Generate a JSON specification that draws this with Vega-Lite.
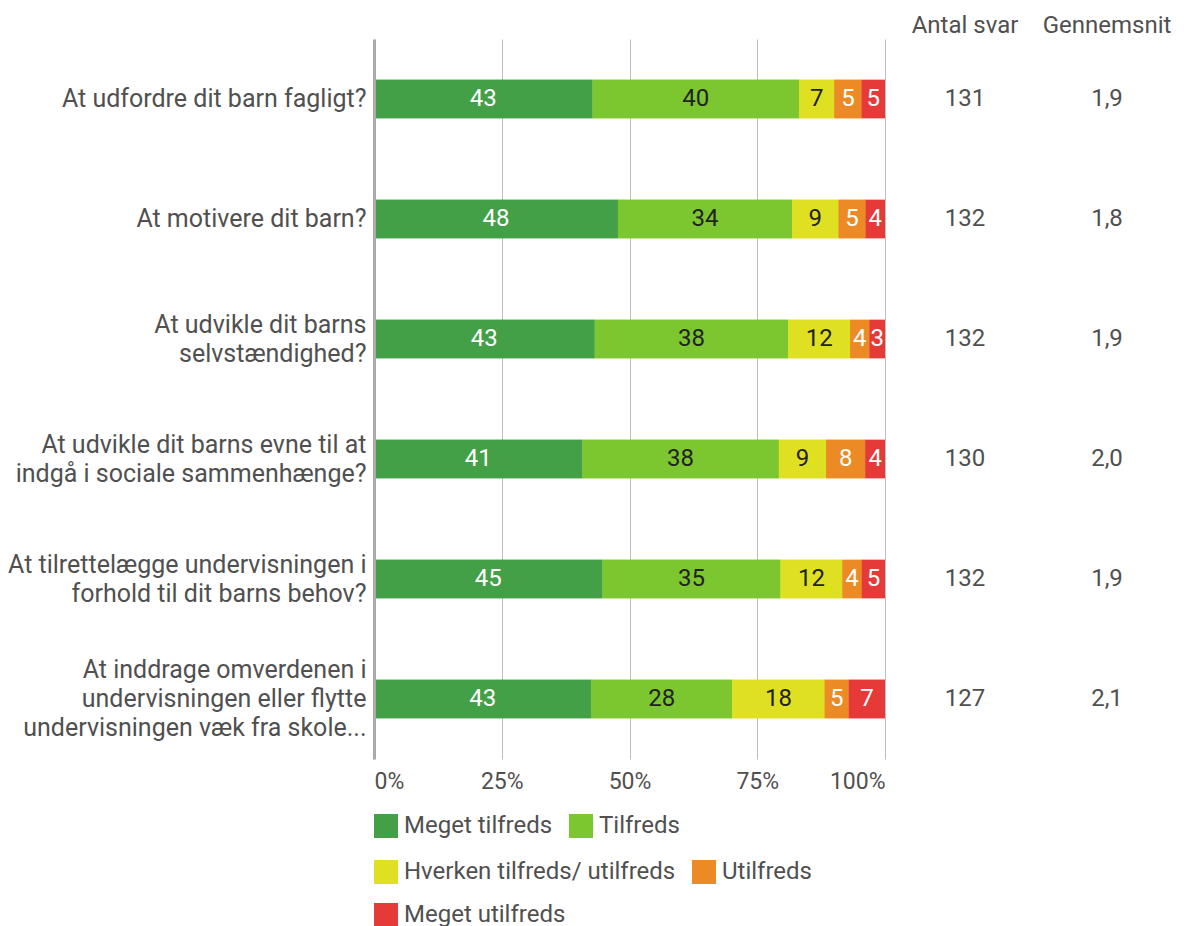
{
  "$schema": "https://vega.github.io/schema/vega-lite/v6.json",
  "padding": {"left": 7, "top": 14, "right": 5, "bottom": 2},
  "autosize": {"type": "pad"},
  "bounds": "flush",
  "spacing": 0,
  "config": {
    "view": {"stroke": null},
    "font": "Roboto",
    "text": {"font": "Roboto"},
    "title": {"font": "Roboto", "fontSize": 24, "fontWeight": "normal", "color": "#505050", "anchor": "middle", "offset": 1},
    "legend": {"layout": {"bottom": {"direction": "vertical", "anchor": "start", "margin": 22}}}
  },
  "datasets": {
    "svar": [
      {"q": "At udfordre dit barn fagligt?", "kat": "Meget tilfreds", "k": 1, "n": 56, "pct": 43},
      {"q": "At udfordre dit barn fagligt?", "kat": "Tilfreds", "k": 2, "n": 53, "pct": 40},
      {"q": "At udfordre dit barn fagligt?", "kat": "Hverken tilfreds/ utilfreds", "k": 3, "n": 9, "pct": 7},
      {"q": "At udfordre dit barn fagligt?", "kat": "Utilfreds", "k": 4, "n": 7, "pct": 5},
      {"q": "At udfordre dit barn fagligt?", "kat": "Meget utilfreds", "k": 5, "n": 6, "pct": 5},
      {"q": "At motivere dit barn?", "kat": "Meget tilfreds", "k": 1, "n": 63, "pct": 48},
      {"q": "At motivere dit barn?", "kat": "Tilfreds", "k": 2, "n": 45, "pct": 34},
      {"q": "At motivere dit barn?", "kat": "Hverken tilfreds/ utilfreds", "k": 3, "n": 12, "pct": 9},
      {"q": "At motivere dit barn?", "kat": "Utilfreds", "k": 4, "n": 7, "pct": 5},
      {"q": "At motivere dit barn?", "kat": "Meget utilfreds", "k": 5, "n": 5, "pct": 4},
      {"q": "At udvikle dit barns\nselvstændighed?", "kat": "Meget tilfreds", "k": 1, "n": 57, "pct": 43},
      {"q": "At udvikle dit barns\nselvstændighed?", "kat": "Tilfreds", "k": 2, "n": 50, "pct": 38},
      {"q": "At udvikle dit barns\nselvstændighed?", "kat": "Hverken tilfreds/ utilfreds", "k": 3, "n": 16, "pct": 12},
      {"q": "At udvikle dit barns\nselvstændighed?", "kat": "Utilfreds", "k": 4, "n": 5, "pct": 4},
      {"q": "At udvikle dit barns\nselvstændighed?", "kat": "Meget utilfreds", "k": 5, "n": 4, "pct": 3},
      {"q": "At udvikle dit barns evne til at\nindgå i sociale sammenhænge?", "kat": "Meget tilfreds", "k": 1, "n": 53, "pct": 41},
      {"q": "At udvikle dit barns evne til at\nindgå i sociale sammenhænge?", "kat": "Tilfreds", "k": 2, "n": 50, "pct": 38},
      {"q": "At udvikle dit barns evne til at\nindgå i sociale sammenhænge?", "kat": "Hverken tilfreds/ utilfreds", "k": 3, "n": 12, "pct": 9},
      {"q": "At udvikle dit barns evne til at\nindgå i sociale sammenhænge?", "kat": "Utilfreds", "k": 4, "n": 10, "pct": 8},
      {"q": "At udvikle dit barns evne til at\nindgå i sociale sammenhænge?", "kat": "Meget utilfreds", "k": 5, "n": 5, "pct": 4},
      {"q": "At tilrettelægge undervisningen i\nforhold til dit barns behov?", "kat": "Meget tilfreds", "k": 1, "n": 59, "pct": 45},
      {"q": "At tilrettelægge undervisningen i\nforhold til dit barns behov?", "kat": "Tilfreds", "k": 2, "n": 46, "pct": 35},
      {"q": "At tilrettelægge undervisningen i\nforhold til dit barns behov?", "kat": "Hverken tilfreds/ utilfreds", "k": 3, "n": 16, "pct": 12},
      {"q": "At tilrettelægge undervisningen i\nforhold til dit barns behov?", "kat": "Utilfreds", "k": 4, "n": 5, "pct": 4},
      {"q": "At tilrettelægge undervisningen i\nforhold til dit barns behov?", "kat": "Meget utilfreds", "k": 5, "n": 6, "pct": 5},
      {"q": "At inddrage omverdenen i\nundervisningen eller flytte\nundervisningen væk fra skole...", "kat": "Meget tilfreds", "k": 1, "n": 54, "pct": 43},
      {"q": "At inddrage omverdenen i\nundervisningen eller flytte\nundervisningen væk fra skole...", "kat": "Tilfreds", "k": 2, "n": 35, "pct": 28},
      {"q": "At inddrage omverdenen i\nundervisningen eller flytte\nundervisningen væk fra skole...", "kat": "Hverken tilfreds/ utilfreds", "k": 3, "n": 23, "pct": 18},
      {"q": "At inddrage omverdenen i\nundervisningen eller flytte\nundervisningen væk fra skole...", "kat": "Utilfreds", "k": 4, "n": 6, "pct": 5},
      {"q": "At inddrage omverdenen i\nundervisningen eller flytte\nundervisningen væk fra skole...", "kat": "Meget utilfreds", "k": 5, "n": 9, "pct": 7}
    ],
    "total": [
      {"q": "At udfordre dit barn fagligt?", "antal": 131, "snit": "1,9"},
      {"q": "At motivere dit barn?", "antal": 132, "snit": "1,8"},
      {"q": "At udvikle dit barns\nselvstændighed?", "antal": 132, "snit": "1,9"},
      {"q": "At udvikle dit barns evne til at\nindgå i sociale sammenhænge?", "antal": 130, "snit": "2,0"},
      {"q": "At tilrettelægge undervisningen i\nforhold til dit barns behov?", "antal": 132, "snit": "1,9"},
      {"q": "At inddrage omverdenen i\nundervisningen eller flytte\nundervisningen væk fra skole...", "antal": 127, "snit": "2,1"}
    ]
  },
  "hconcat": [
    {
      "width": 511,
      "height": 720,
      "data": {"name": "svar"},
      "transform": [
        {"stack": "n", "groupby": ["q"], "sort": [{"field": "k", "order": "ascending"}], "offset": "normalize", "as": ["x0", "x1"]}
      ],
      "encoding": {
        "y": {
          "field": "q", "type": "nominal",
          "sort": ["At udfordre dit barn fagligt?", "At motivere dit barn?", "At udvikle dit barns\nselvstændighed?", "At udvikle dit barns evne til at\nindgå i sociale sammenhænge?", "At tilrettelægge undervisningen i\nforhold til dit barns behov?", "At inddrage omverdenen i\nundervisningen eller flytte\nundervisningen væk fra skole..."],
          "scale": {"paddingInner": 0.68, "paddingOuter": 0.34},
          "axis": {
            "title": null, "labelExpr": "split(datum.value, '\\n')",
            "labelFont": "Roboto", "labelFontSize": 25, "labelColor": "#505050", "labelLimit": 0,
            "labelPadding": 8, "labelLineHeight": 29, "ticks": false, "grid": false,
            "labelOffset": {
              "condition": [
                {"test": "length(split(datum.value, '\\n')) == 3", "value": -29},
                {"test": "length(split(datum.value, '\\n')) == 2", "value": -14}
              ],
              "value": 0
            },
            "domainColor": "#aaaaaa", "domainWidth": 3, "zindex": 1
          }
        }
      },
      "layer": [
        {
          "mark": {"type": "bar"},
          "encoding": {
            "x": {
              "field": "x0", "type": "quantitative", "scale": {"domain": [0, 1], "nice": false},
              "axis": {
                "title": null, "values": [0, 0.25, 0.5, 0.75, 1], "format": "%", "labelFlush": true,
                "grid": true, "gridColor": "#bdbdbd", "gridWidth": 1, "domain": false, "ticks": false,
                "labelFont": "Roboto", "labelFontSize": 23, "labelColor": "#505050", "labelPadding": 11
              }
            },
            "x2": {"field": "x1"},
            "color": {
              "field": "kat", "type": "nominal",
              "scale": {
                "domain": ["Meget tilfreds", "Tilfreds", "Hverken tilfreds/ utilfreds", "Utilfreds", "Meget utilfreds"],
                "range": ["#43a047", "#7cc62f", "#dfe022", "#ec8b25", "#e53a37"]
              },
              "legend": {
                "title": null, "orient": "bottom", "direction": "horizontal",
                "values": ["Meget tilfreds", "Tilfreds"],
                "symbolType": "square", "symbolSize": 576, "symbolStrokeWidth": 0, "symbolOpacity": 1,
                "labelFont": "Roboto", "labelFontSize": 24, "labelColor": "#505050", "labelOffset": 6, "labelLimit": 0,
                "rowPadding": 19, "columnPadding": 16, "offset": 21
              }
            }
          }
        },
        {
          "mark": {"type": "bar"},
          "encoding": {
            "x": {
              "field": "x0", "type": "quantitative", "scale": {"domain": [0, 1], "nice": false},
              "axis": {
                "title": null, "values": [0, 0.25, 0.5, 0.75, 1], "format": "%", "labelFlush": true,
                "grid": true, "gridColor": "#bdbdbd", "gridWidth": 1, "domain": false, "ticks": false,
                "labelFont": "Roboto", "labelFontSize": 23, "labelColor": "#505050", "labelPadding": 11
              }
            },
            "x2": {"field": "x1"},
            "fill": {
              "field": "kat", "type": "nominal",
              "scale": {
                "domain": ["Hverken tilfreds/ utilfreds", "Utilfreds", "Meget utilfreds", "Meget tilfreds", "Tilfreds"],
                "range": ["#dfe022", "#ec8b25", "#e53a37", "#43a047", "#7cc62f"]
              },
              "legend": {
                "title": null, "orient": "bottom", "direction": "horizontal", "columns": 2,
                "values": ["Hverken tilfreds/ utilfreds", "Utilfreds", "Meget utilfreds"],
                "symbolType": "square", "symbolSize": 576, "symbolStrokeWidth": 0, "symbolOpacity": 1,
                "labelFont": "Roboto", "labelFontSize": 24, "labelColor": "#505050", "labelOffset": 6, "labelLimit": 0,
                "rowPadding": 19, "columnPadding": 16, "offset": 21
              }
            }
          }
        },
        {
          "transform": [
            {"fold": ["x0", "x1"], "as": ["edge", "pos"]},
            {"aggregate": [{"op": "mean", "field": "pos", "as": "mid"}], "groupby": ["q", "kat", "pct"]}
          ],
          "mark": {"type": "text", "fontSize": 24, "font": "Roboto"},
          "encoding": {
            "x": {
              "field": "mid", "type": "quantitative", "scale": {"domain": [0, 1], "nice": false},
              "axis": {
                "title": null, "values": [0, 0.25, 0.5, 0.75, 1], "format": "%", "labelFlush": true,
                "grid": true, "gridColor": "#bdbdbd", "gridWidth": 1, "domain": false, "ticks": false,
                "labelFont": "Roboto", "labelFontSize": 23, "labelColor": "#505050", "labelPadding": 11
              }
            },
            "text": {"field": "pct", "type": "quantitative"},
            "color": {
              "condition": {"test": "datum.kat === 'Tilfreds' || datum.kat === 'Hverken tilfreds/ utilfreds'", "value": "#222222"},
              "value": "#ffffff"
            }
          }
        }
      ]
    },
    {
      "width": 160,
      "height": 720,
      "data": {"name": "total"},
      "title": {"text": "Antal svar"},
      "mark": {"type": "text", "fontSize": 24, "font": "Roboto", "color": "#505050"},
      "encoding": {
        "y": {
          "field": "q", "type": "nominal",
          "sort": ["At udfordre dit barn fagligt?", "At motivere dit barn?", "At udvikle dit barns\nselvstændighed?", "At udvikle dit barns evne til at\nindgå i sociale sammenhænge?", "At tilrettelægge undervisningen i\nforhold til dit barns behov?", "At inddrage omverdenen i\nundervisningen eller flytte\nundervisningen væk fra skole..."],
          "scale": {"paddingInner": 0.68, "paddingOuter": 0.34},
          "axis": null
        },
        "text": {"field": "antal", "type": "quantitative"}
      }
    },
    {
      "width": 124,
      "height": 720,
      "data": {"name": "total"},
      "title": {"text": "Gennemsnit"},
      "mark": {"type": "text", "fontSize": 24, "font": "Roboto", "color": "#505050"},
      "encoding": {
        "y": {
          "field": "q", "type": "nominal",
          "sort": ["At udfordre dit barn fagligt?", "At motivere dit barn?", "At udvikle dit barns\nselvstændighed?", "At udvikle dit barns evne til at\nindgå i sociale sammenhænge?", "At tilrettelægge undervisningen i\nforhold til dit barns behov?", "At inddrage omverdenen i\nundervisningen eller flytte\nundervisningen væk fra skole..."],
          "scale": {"paddingInner": 0.68, "paddingOuter": 0.34},
          "axis": null
        },
        "text": {"field": "snit", "type": "nominal"}
      }
    }
  ]
}
